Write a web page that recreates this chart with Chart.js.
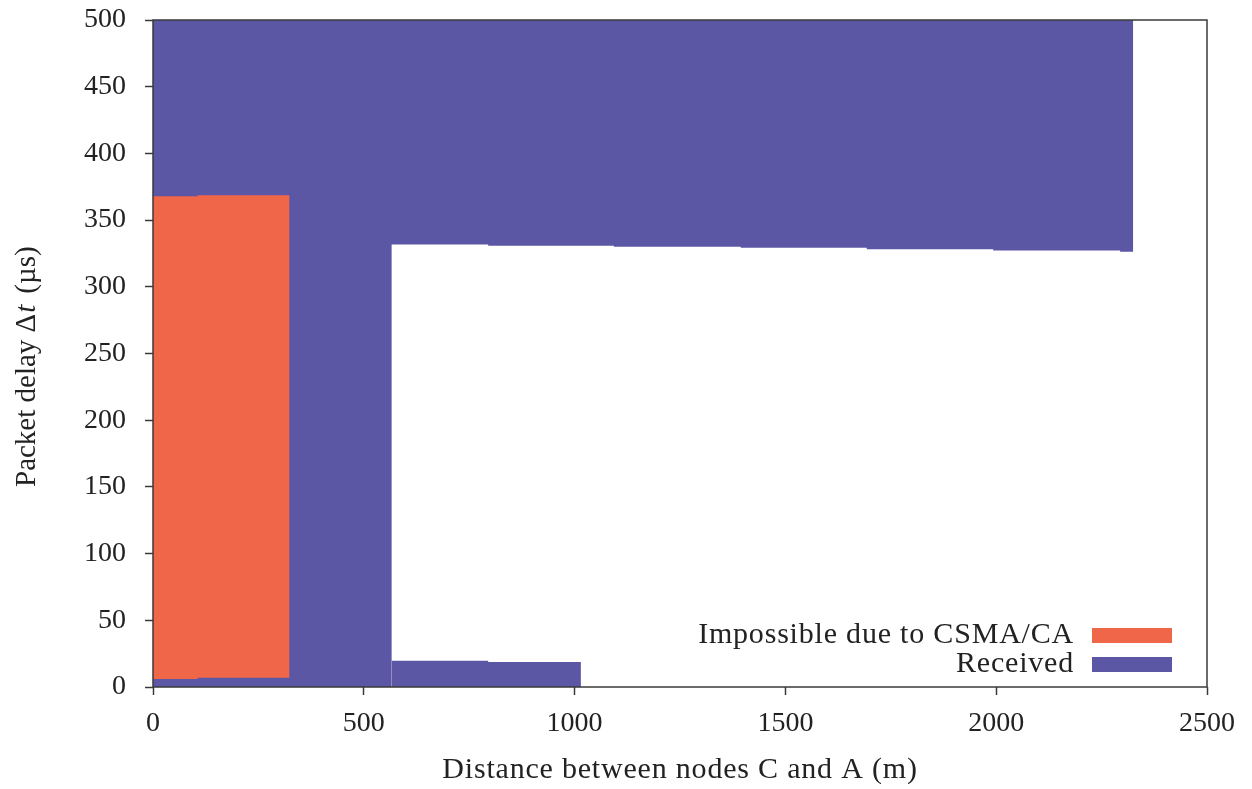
<!DOCTYPE html>
<html>
<head>
<meta charset="utf-8">
<script src="https://cdn.jsdelivr.net/npm/chart.js@4.4.0/dist/chart.umd.min.js"></script>
<style>
html,body{margin:0;padding:0;background:#fff;}
#wrap{width:1252px;height:789px;position:relative;}
</style>
</head>
<body>
<div id="wrap"><canvas id="c" width="1252" height="789"></canvas></div>
<script>
// ---- Data ----
const xTickValues = [0, 500, 1000, 1500, 2000, 2500];
const yTickValues = [0, 50, 100, 150, 200, 250, 300, 350, 400, 450, 500];

// "Received" – upper band: from receivedUpperMin up to receivedUpperMax
const receivedBandX    = [0,   566,   795,   1093,  1394,  1693,  1993,  2294,  2325];
const receivedUpperMin = [0,   331.7, 330.8, 330.0, 329.3, 328.2, 327.2, 326.2, 326.2];
const receivedUpperMax = [500, 500,   500,   500,   500,   500,   500,   500,   500];

// "Received" – lower band: from 0 up to receivedLowMax
const receivedLowX   = [566,  795,  1015];
const receivedLowMax = [19.7, 18.7, 18.7];

// "Impossible due to CSMA/CA"
const impossibleX   = [0,     106,   324];
const impossibleMin = [6.0,   7.0,   7.0];
const impossibleMax = [367.9, 368.6, 368.6];

const seriesLabels = ['Impossible due to CSMA/CA', 'Received'];
const xTitle = 'Distance between nodes C and A (m)';

const ORANGE = '#f06649';
const BLUE = '#5b57a5';
const AXIS = '#3a3a3a';
const TEXT = '#222222';
const FONT = '"Liberation Serif", "Times New Roman", serif';

const pts = (xs, ys) => xs.map((x, i) => ({x: x, y: ys[i]}));

const common = {
  stepped: 'before',
  borderWidth: 0,
  pointRadius: 0,
  pointHoverRadius: 0,
  borderColor: 'rgba(0,0,0,0)'
};

const datasets = [
  Object.assign({}, common, {label: seriesLabels[0], data: pts(impossibleX, impossibleMax),
    fill: '+1', backgroundColor: ORANGE, order: 0}),
  Object.assign({}, common, {label: seriesLabels[0] + ' (min)', data: pts(impossibleX, impossibleMin),
    fill: false, backgroundColor: ORANGE, order: 0}),
  Object.assign({}, common, {label: seriesLabels[1], data: pts(receivedBandX, receivedUpperMax),
    fill: '+1', backgroundColor: BLUE, order: 1}),
  Object.assign({}, common, {label: seriesLabels[1] + ' (band min)', data: pts(receivedBandX, receivedUpperMin),
    fill: false, backgroundColor: BLUE, order: 1}),
  Object.assign({}, common, {label: seriesLabels[1] + ' (low)', data: pts(receivedLowX, receivedLowMax),
    fill: 'origin', backgroundColor: BLUE, order: 1})
];

function drawSpaced(ctx, parts, x, y, spacing) {
  let cx = x;
  parts.forEach(p => {
    ctx.font = (p.italic ? 'italic ' : '') + p.size + 'px ' + FONT;
    ctx.letterSpacing = spacing + 'px';
    cx += (p.pre || 0);
    ctx.fillText(p.text, cx, y);
    cx += ctx.measureText(p.text).width;
  });
  return cx - x;
}
function measureParts(ctx, parts, spacing) {
  let w = 0;
  parts.forEach(p => {
    ctx.font = (p.italic ? 'italic ' : '') + p.size + 'px ' + FONT;
    ctx.letterSpacing = spacing + 'px';
    w += (p.pre || 0) + ctx.measureText(p.text).width;
  });
  return w;
}

const decor = {
  id: 'decor',
  afterDatasetsDraw(chart) {
    const {ctx, chartArea: a} = chart;
    ctx.save();
    ctx.strokeStyle = AXIS;
    ctx.lineWidth = 1.5;
    ctx.strokeRect(a.left, a.top, a.right - a.left, a.bottom - a.top);
    ctx.restore();
  },
  afterDraw(chart) {
    const {ctx, chartArea: a} = chart;
    const sp = 0.8;
    ctx.save();
    ctx.fillStyle = TEXT;
    ctx.textBaseline = 'alphabetic';
    ctx.textAlign = 'left';

    // x title
    const xParts = [{text: xTitle, size: 30}];
    const xw = measureParts(ctx, xParts, sp);
    drawSpaced(ctx, xParts, (a.left + a.right) / 2 - xw / 2, 778, sp);

    // y title (starts at the bottom, reads upwards)
    const yParts = [
      {text: 'Packet delay \u0394', size: 29},
      {text: 't', size: 29, italic: true, pre: 1},
      {text: '(\u00b5s)', size: 29, pre: 11}
    ];
    ctx.save();
    ctx.translate(35, 487);
    ctx.rotate(-Math.PI / 2);
    drawSpaced(ctx, yParts, 0, 0, 0);
    ctx.restore();

    // legend (inside plot, bottom right; boxes to the right of text)
    const rows = [
      {label: seriesLabels[0], color: ORANGE, base: 643, boxY: 628},
      {label: seriesLabels[1], color: BLUE, base: 672, boxY: 657}
    ];
    rows.forEach(r => {
      const parts = [{text: r.label, size: 30}];
      const w = measureParts(ctx, parts, sp);
      ctx.fillStyle = TEXT;
      drawSpaced(ctx, parts, 1074 - w, r.base, sp);
      ctx.fillStyle = r.color;
      ctx.fillRect(1092, r.boxY, 80, 15);
    });
    ctx.restore();
  }
};

new Chart(document.getElementById('c'), {
  type: 'line',
  data: {datasets: datasets},
  options: {
    responsive: false,
    animation: false,
    events: [],
    layout: {padding: {top: 20, right: 45, left: 0, bottom: 0}},
    plugins: {legend: {display: false}, tooltip: {enabled: false}, title: {display: false}},
    scales: {
      x: {
        type: 'linear', min: 0, max: 2500,
        afterBuildTicks: s => { s.ticks = xTickValues.map(v => ({value: v})); },
        afterFit: s => { s.height = 102; s.paddingLeft = 0; s.paddingRight = 0; },
        border: {display: false},
        grid: {display: true, drawOnChartArea: false, drawTicks: true, tickLength: 8,
               tickColor: AXIS, tickWidth: 1.5, color: AXIS},
        ticks: {font: {family: FONT, size: 28}, color: TEXT, padding: 12, maxRotation: 0,
                autoSkip: false, callback: v => String(v)}
      },
      y: {
        type: 'linear', min: 0, max: 500,
        afterBuildTicks: s => { s.ticks = yTickValues.map(v => ({value: v})); },
        afterFit: s => { s.width = 153; s.paddingTop = 0; s.paddingBottom = 0; },
        border: {display: false},
        grid: {display: true, drawOnChartArea: false, drawTicks: true, tickLength: 8,
               tickColor: AXIS, tickWidth: 1.5, color: AXIS},
        ticks: {font: {family: FONT, size: 28}, color: TEXT, padding: 19, autoSkip: false,
                callback: v => String(v)}
      }
    }
  },
  plugins: [decor]
});
</script>
</body>
</html>
